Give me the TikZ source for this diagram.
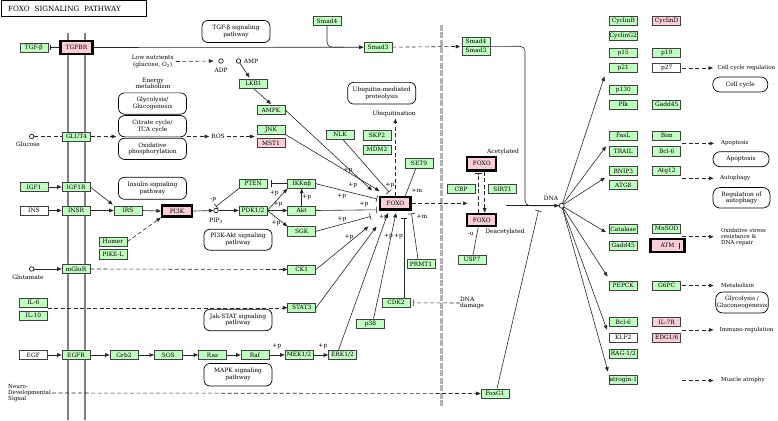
\documentclass[tikz,border=0pt]{standalone}
\usepackage{fontspec}
\setmainfont{DejaVu Serif}
\usetikzlibrary{arrows.meta,calc}
\definecolor{kg}{RGB}{191,255,191}
\definecolor{kp}{RGB}{250,205,215}
\begin{document}
\begin{tikzpicture}[x=1pt,y=-1pt,
  every node/.style={font=\fontsize{5.9}{6.6}\selectfont,text=black},
  gbox/.style={draw=black!75,fill=kg,minimum width=28pt,minimum height=9.3pt,inner sep=0pt,line width=0.6pt},
  pbox/.style={gbox,fill=kp},
  wbox/.style={gbox,fill=white},
  tbox/.style={draw=black,fill=kp,line width=2.2pt,inner sep=0pt},
  rbox/.style={draw=black,fill=white,rounded corners=6pt,line width=0.7pt,align=center,inner sep=0pt},
  lab/.style={inner sep=0pt},
  rlab/.style={inner sep=0pt,anchor=west,font=\fontsize{5.5}{6.2}\selectfont},
  con/.style={line width=0.6pt,draw=black!85},
  arr/.style={con,-{Triangle[length=4.5pt,width=3.6pt]}},
  inh/.style={con,-{Bar[width=6.5pt]}},
  dsh/.style={dash pattern=on 4pt off 2.5pt},
  mem/.style={draw=black!50,line width=1.7pt},
  dot/.style={circle,draw=black,fill=white,inner sep=0pt,minimum size=4.5pt,line width=0.6pt},
]
\useasboundingbox (0,0) rectangle (778,420);
\fill[white] (0,0) rectangle (778,420);

% title
\node[draw,line width=0.8pt,anchor=north west,minimum width=145.5pt,minimum height=16pt,
      text width=131pt,align=left,inner xsep=7pt,font=\fontsize{7.2}{8}\selectfont] (title) at (0.5,0.5)
      {FOXO\ \ SIGNALING\ \ PATHWAY};

% membrane and divider
\draw[mem] (68.3,33) -- (68.3,420);
\draw[mem] (85,33) -- (85,420);
\draw[draw=black!30,line width=3pt,dash pattern=on 6pt off 1.5pt] (441.7,25) -- (441.7,407);

% ---------- TGF-beta ----------
\node[gbox] (TGFb) at (33.8,47.5) {TGF-β};
\node[tbox,minimum width=32pt,minimum height=13pt] (TGFBR) at (76.5,47.5) {TGFBR};
\node[rbox,minimum width=68pt,minimum height=22pt] (TGFpw) at (236,31.5) {TGF-β signaling\\pathway};
\node[gbox] (Smad4a) at (327,21) {Smad4};
\node[gbox] (Smad3a) at (378,47.2) {Smad3};
\node[gbox] (Smad4b) at (476,41.5) {Smad4};
\node[gbox] (Smad3b) at (476,50.6) {Smad3};
\draw[con,{Bar[width=5pt]}-] ($(TGFb.east)+(1.5,0)$) -- (TGFBR.west);
\draw[arr] (TGFBR.east) -- (Smad3a.west);
\draw[con,rounded corners=5pt] (Smad4a.south) |- ($(Smad3a.west)+(-20,0)$);
\draw[arr,dsh] (Smad3a.east) -- ($(Smad4b.south west)+(-1.5,0)$);

% ---------- energy ----------
\node[lab,align=center] (lown) at (152.7,61.5) {Low nutrients\\(glucose, O\textsubscript{2})};
\node[dot] (ADP) at (221,61) {};
\node[lab] (ADPl) at (221,70.5) {ADP};
\node[dot] (AMP) at (238.5,61) {};
\node[lab] (AMPl) at (251,61) {AMP};
\draw[arr,dsh] ($(lown.east)+(2,0)$) -- ($(ADP.west)+(-5,0)$);
\node[gbox] (LKB1) at (253.5,83.5) {LKB1};
\node[gbox] (AMPK) at (271,110) {AMPK};
\node[gbox] (JNK) at (271,129.5) {JNK};
\node[pbox] (MST1) at (271,143) {MST1};
\draw[arr] (AMP) -- ($(LKB1.north)+(-4,-1)$);
\draw[arr] (LKB1.south) -- ($(AMPK.north)+(0,-1)$);
\node[lab,align=center] (energy) at (153,83.5) {Energy\\metabolism};
\node[rbox,minimum width=68pt,minimum height=21.3pt] (glyco) at (152.5,103.5) {Glycolysis/\\Glucogenesis};
\node[rbox,minimum width=68pt,minimum height=21.3pt] (citrate) at (152.5,126.2) {Citrate cycle/\\TCA cycle};
\node[rbox,minimum width=68pt,minimum height=21.3pt] (oxphos) at (152.5,148.8) {Oxidative\\phosphorylation};
\node[dot] (glc) at (31.7,136.5) {};
\node[lab] (glcl) at (28,144.5) {Glucose};
\node[gbox] (GLUT4) at (76.5,136.5) {GLUT4};
\draw[con,dsh] (glc) -- (GLUT4.west);
\draw[arr,dsh] (GLUT4.east) -- ($(GLUT4.east -| citrate.west)+(-2,0)$);
\node[lab] (ROS) at (218,136.5) {ROS};
\draw[arr,dsh] (citrate.east |- ROS.west) -- ($(ROS.west)+(-2,0)$);
\draw[arr,dsh] ($(ROS.east)+(2,0)$) -- ($(ROS.east -| JNK.west)+(-2,0)$);

% ---------- insulin ----------
\node[gbox] (IGF1) at (34,187) {IGF1};
\node[gbox] (IGF1R) at (76,187) {IGF1R};
\node[wbox] (INS) at (34,210.5) {INS};
\node[gbox] (INSR) at (76,210.5) {INSR};
\node[gbox] (IRS) at (128,210.5) {IRS};
\node[tbox,minimum width=30pt,minimum height=11pt] (PI3K) at (177,211) {PI3K};
\node[rbox,minimum width=68pt,minimum height=22pt] (inspw) at (152.5,188.3) {Insulin signaling\\pathway};
\draw[arr] (IGF1.east) -- (IGF1R.west);
\draw[arr] (INS.east) -- (INSR.west);
\draw[arr] (INSR.east) -- (IRS.west);
\draw[arr] (IGF1R.east) -- ($(IRS.north west)+(-1,-1)$);
\draw[arr] (IRS.east) -- (PI3K.west);
\node[dot] (PIP3) at (216,210.5) {};
\node[lab] (PIP3l) at (216,220.5) {PIP\textsubscript{3}};
\node[lab] (mp) at (213.3,199.3) {-p};
\node[gbox] (PTEN) at (253,183.7) {PTEN};
\node[gbox] (PDK12) at (253,210.5) {PDK1/2};
\node[gbox] (IKK) at (301.7,183.7) {IKKαβ};
\node[gbox] (Akt) at (301.7,210.5) {Akt};
\node[gbox] (SGK) at (301.7,231.3) {SGK};
\node[rbox,minimum width=68pt,minimum height=21pt] (pi3kpw) at (238,239.7) {PI3K-Akt signaling\\pathway};
\draw[arr] (PI3K.east) -- (PIP3);
\draw[arr] (PIP3) -- (PDK12.west);
\draw[inh] (PTEN.south west) -- ($(PIP3.north)+(0,-1.5)$);
\draw[arr] (PDK12.east) -- (IKK.south west);
\draw[arr] (PDK12.east) -- (Akt.west);
\draw[arr] (PDK12.east) -- (SGK.north west);
\draw[arr] (Akt.north) -- (IKK.south);
\draw[con,{Bar[width=6.5pt]}-] ($(PTEN.east)+(3.5,0)$) -- (IKK.west);
\node[lab] at (274.3,193.3) {+p};
\node[lab] at (278,204.3) {+p};
\node[lab] at (276,223.3) {+p};
\node[lab] at (306.7,197.3) {+p};

% ---------- glutamate ----------
\node[gbox] (Homer) at (113,241.7) {Homer};
\node[gbox] (PIKEL) at (113,254.3) {PIKE-L};
\node[dot] (glu) at (31.7,269) {};
\node[lab] (glul) at (28,276.8) {Glutamate};
\node[gbox] (mGluR) at (76,269) {mGluR};
\node[gbox] (CK1) at (301.7,269.5) {CK1};
\draw[arr] (glu) -- (mGluR.west);
\draw[arr,dsh] (Homer.east) -- (PI3K.south west);
\draw[arr,dsh] (mGluR.east) -- (CK1.west);

% ---------- IL ----------
\node[gbox] (IL6) at (33.3,302.8) {IL-6};
\node[gbox] (IL10) at (33.3,315.5) {IL-10};
\node[gbox] (STAT3) at (301.7,307.8) {STAT3};
\node[rbox,minimum width=68pt,minimum height=21.5pt] (jakpw) at (238,320) {Jak-STAT signaling\\pathway};
\draw[arr,dsh] (IL6.east |- STAT3.west) -- (STAT3.west);

% ---------- EGF ----------
\node[wbox] (EGF) at (33.3,355) {EGF};
\node[gbox] (EGFR) at (76,355) {EGFR};
\node[gbox] (Grb2) at (124,355) {Grb2};
\node[gbox] (SOS) at (168.3,355) {SOS};
\node[gbox] (Ras) at (212.5,355) {Ras};
\node[gbox] (Raf) at (255,355) {Raf};
\node[gbox] (MEK) at (299,355) {MEK1/2};
\node[gbox] (ERK) at (342.5,355) {ERK1/2};
\node[rbox,minimum width=68pt,minimum height=22.5pt] (mapkpw) at (238,374.7) {MAPK signaling\\pathway};
\draw[arr] (EGF.east) -- (EGFR.west);
\draw[arr] (EGFR.east) -- (Grb2.west);
\draw[arr] (Grb2.east) -- (SOS.west);
\draw[arr] (SOS.east) -- (Ras.west);
\draw[arr] (Ras.east) -- (Raf.west);
\draw[arr] (Raf.east) -- (MEK.west);
\draw[arr] (MEK.east) -- (ERK.west);
\node[lab] at (276.7,346.7) {+p};
\node[lab] at (322.7,346.7) {+p};

% ---------- neuro ----------
\node[lab,align=left,anchor=west,font=\fontsize{5.6}{6.2}\selectfont] (neuro) at (8,393) {Neuro-\\Developmental\\Signal};
\node[gbox] (FoxG1) at (495,393.5) {FoxG1};
\draw[arr,dsh] ($(neuro.east)+(1,0)$) -- (FoxG1.west);

% ---------- FOXO centre ----------
\node[rbox,minimum width=68pt,minimum height=21.7pt] (ubpw) at (381.7,93.2) {Ubiquitin-mediated\\proteolysis};
\node[lab] (ubiq) at (394,114) {Ubiquitination};
\node[gbox] (NLK) at (340,134.7) {NLK};
\node[gbox] (SKP2) at (377,135.3) {SKP2};
\node[gbox] (MDM2) at (377,149.5) {MDM2};
\node[gbox] (SET9) at (419,163.3) {SET9};
\node[gbox] (CDK2) at (396,302.8) {CDK2};
\node[gbox] (p38) at (370.5,324) {p38};
\node[gbox] (PRMT1) at (421,264) {PRMT1};
\node[lab,align=left,anchor=west] (dnadmg) at (460,303) {DNA\\damage};
\node[tbox,minimum width=30.5pt,minimum height=12.5pt] (FOXO) at (395.3,203.3) {FOXO};

\coordinate (fA) at (372,190.5);
\coordinate (fB) at (379.5,191);
\coordinate (fC) at (389,192);
\coordinate (fD) at (377,199);
\coordinate (fE) at (377,209.8);
\coordinate (fF) at (370.5,216.5);
\coordinate (fG) at (368.5,226.5);
\coordinate (fH) at (376.5,226.5);
\coordinate (fI) at (388,213);
\coordinate (fJ) at (396,213);
\coordinate (fK) at (404,217.5);
\coordinate (fL) at (411.5,213.5);
\coordinate (fM) at (405,196.5);
\draw[arr] (AMPK.east) -- (fA);
\draw[arr] (JNK.south east) -- (fB);
\draw[inh] ($(NLK.south)+(3,0)$) -- (fC);
\draw[inh] (IKK.east) -- (fD);
\draw[inh] (Akt.east) -- (fE);
\draw[inh] (SGK.east) -- (fF);
\draw[arr] (CK1.east) -- (fG);
\draw[arr] (STAT3.east) -- (fH);
\draw[arr] ($(ERK.north)+(-4,0)$) -- (fI);
\draw[arr] ($(p38.north)+(3,0)$) -- (fJ);
\draw[inh] ($(CDK2.north)+(8,0)$) -- (fK);
\draw[inh] ($(PRMT1.north)+(-3,0)$) -- (fL);
\draw[con] ($(SET9.south)+(-3,0)$) -- (fM);
\draw[con,dsh,-{Bar[width=7pt]},shorten >=3pt] (dnadmg.west) -- (CDK2.east);
\draw[arr,dsh] (FOXO.north) -- ($(FOXO.north |- ubiq.south)+(0,1.5)$);

\node[lab] at (348,170) {+p};
\node[lab] at (352.7,185) {+p};
\node[lab] at (341.7,196.7) {+p};
\node[lab] at (364,204) {+p};
\node[lab] at (390,185) {+p};
\node[lab] at (342,219) {+p};
\node[lab] at (349,237) {+p};
\node[lab] at (383.5,217.5) {+p};
\node[lab] at (388.5,236) {+p};
\node[lab] at (398.5,236) {+p};
\node[lab] at (417,191) {+m};
\node[lab] at (422,217) {+m};

% ---------- nucleus ----------
\node[tbox,minimum width=29pt,minimum height=13.5pt] (FOXOac) at (481.7,163.8) {FOXO};
\node[tbox,minimum width=29pt,minimum height=12.5pt] (FOXOde) at (481.7,220) {FOXO};
\node[lab] (acl) at (503,151.5) {Acetylated};
\node[lab] (deacl) at (505,232) {Deacetylated};
\node[lab] (ul) at (470.7,234) {-u};
\node[gbox] (CBP) at (461,189) {CBP};
\node[gbox] (SIRT1) at (502.5,189) {SIRT1};
\node[gbox] (USP7) at (472,259.7) {USP7};
\coordinate (acin) at (467.5,203.3);
\draw[arr,dsh] (FOXO.east) -- (acin);
\draw[inh,dsh,shorten >=1.5pt] ($(FOXOde.north)+(-3,0)$) -- ($(FOXOac.south)+(-3,0)$);
\draw[arr,dsh] ($(FOXOac.south)+(3,0)$) -- ($(FOXOde.north)+(3,0)$);
\draw[con] ($(USP7.north)+(1,0)$) -- ($(FOXOde.south)+(-3.5,0)$);

\node[dot,minimum size=5pt] (dna) at (561.7,205.7) {};
\node[lab] (dnal) at (551,198) {DNA};
\coordinate (foxout) at (506,205.7);
\coordinate (sm1) at (525,46.2);
\coordinate (sm2) at (525,205.7);
\draw[con,rounded corners=5pt] (Smad4b.south east) -- (sm1) -- (sm2) -- (dna.west);
\draw[arr] (foxout) -- (dna);
\coordinate (fgend) at (538.5,210.5);
\draw[inh] ($(FoxG1.north)+(2,0)$) -- (fgend);

% ---------- target genes ----------
\node[gbox] (CyclinB) at (623.3,21) {CyclinB};
\node[pbox] (CyclinD) at (666.7,21) {CyclinD};
\node[gbox] (CyclinG2) at (623.3,36) {CyclinG2};
\node[gbox] (p15) at (623.3,52.5) {p15};
\node[gbox] (p19) at (666.7,52.5) {p19};
\node[gbox] (p21) at (623.3,68) {p21};
\node[wbox] (p27) at (666.7,68) {p27};
\node[gbox] (p130) at (623.3,89.5) {p130};
\node[gbox] (Plk) at (623.3,104.5) {Plk};
\node[gbox] (Gadd45b) at (666.7,104.5) {Gadd45};
\node[gbox] (FasL) at (623.3,135.5) {FasL};
\node[gbox] (Bim) at (666.7,135.5) {Bim};
\node[gbox] (TRAIL) at (623.3,151.3) {TRAIL};
\node[gbox] (Bcl6a) at (666.7,151.3) {Bcl-6};
\node[gbox] (BNIP3) at (623.3,171) {BNIP3};
\node[gbox] (Atg12) at (666.7,171) {Atg12};
\node[gbox] (ATG8) at (623.3,185) {ATG8};
\node[gbox] (Catalase) at (623.3,228.8) {Catalase};
\node[gbox] (MnSOD) at (666.7,228.8) {MnSOD};
\node[gbox] (Gadd45a) at (623.3,245.5) {Gadd45};
\node[tbox,minimum width=34pt,minimum height=13.4pt] (ATM) at (667.5,245.5) {ATM};
\draw[con] ($(ATM.east)+(-6.5,-3)$) -- ($(ATM.east)+(-6.5,3)$);
\node[gbox] (PEPCK) at (623.3,285.5) {PEPCK};
\node[gbox] (G6PC) at (666.7,285.5) {G6PC};
\node[gbox] (Bcl6b) at (623.3,322) {Bcl-6};
\node[pbox] (IL7R) at (666.7,322) {IL-7R};
\node[wbox] (KLF2) at (623.3,337.8) {KLF2};
\node[pbox] (EDG16) at (666.7,337.8) {EDG1/6};
\node[gbox] (RAG12) at (623.3,353.8) {RAG-1/2};
\node[gbox] (atrogin) at (623.3,379.5) {atrogin-1};

\draw[arr] (dna) -- ($(p21.south west)+(-4.5,3.5)$);
\draw[arr] (dna) -- ($(TRAIL.north west)+(-3,0)$);
\draw[arr] (dna) -- ($(BNIP3.south west)+(-4,1.8)$);
\draw[arr] (dna) -- ($(Catalase.south west)+(-3,-1.5)$);
\draw[arr] (dna) -- ($(PEPCK.north west)+(-1.5,-4)$);
\draw[arr] (dna) -- ($(Bcl6b.south west)+(-2,2.8)$);
\draw[arr] (dna) -- ($(atrogin.north west)+(-1,-3)$);

% outcomes
\node[rlab] (ccl) at (717.5,68) {Cell cycle regulation};
\node[rlab] (apol) at (721,143.4) {Apoptosis};
\node[rlab] (autl) at (720,178) {Autophagy};
\node[rlab,align=left] (oxl) at (721,237) {Oxidative stress\\resistance \&\\DNA repair};
\node[rlab] (metl) at (721,285.5) {Metabolism};
\node[rlab] (imml) at (719.5,330) {Immuno-regulation};
\node[rlab] (musl) at (721,380.5) {Muscle atrophy};
\coordinate (ccs) at ($(p27.east)+(1,0)$);
\coordinate (apos) at ($(Bim.south east)!0.5!(Bcl6a.north east)+(1,0)$);
\coordinate (auts) at ($(Atg12.south east)+(1,2.3)$);
\coordinate (oxs) at ($(MnSOD.south east)+(1,3)$);
\coordinate (mets) at ($(G6PC.east)+(1,0)$);
\coordinate (imms) at ($(IL7R.south east)!0.5!(EDG16.north east)+(1,0)$);
\coordinate (muss) at ($(atrogin.east)+(44.4,1)$);
\draw[arr,dsh,shorten >=4.5pt] (ccs) -- (ccs -| ccl.west);
\draw[arr,dsh,shorten >=7pt] (apos) -- (apos -| apol.west);
\draw[arr,dsh,shorten >=6.5pt] (auts) -- (auts -| autl.west);
\draw[arr,dsh,shorten >=7.5pt] (oxs) -- (oxs -| oxl.west);
\draw[arr,dsh,shorten >=7.5pt] (mets) -- (mets -| metl.west);
\draw[arr,dsh,shorten >=6pt] (imms) -- (imms -| imml.west);
\draw[arr,dsh,shorten >=7.5pt] (muss) -- (muss -| musl.west);

\node[rbox,rounded corners=7pt,minimum width=55pt,minimum height=15pt] (ccbox) at (740.3,84.5) {Cell cycle};
\node[rbox,rounded corners=7pt,minimum width=56pt,minimum height=15pt] (apobox) at (741,159.2) {Apoptosis};
\node[rbox,rounded corners=7pt,minimum width=57pt,minimum height=20.5pt] (autbox) at (741.5,197.8) {Regulation of\\autophagy};
\node[rbox,rounded corners=7pt,minimum width=52.5pt,minimum height=21pt] (glybox) at (742,302.5) {Glycolysis /\\Gluconeogenesis};
\end{tikzpicture}
\end{document}
